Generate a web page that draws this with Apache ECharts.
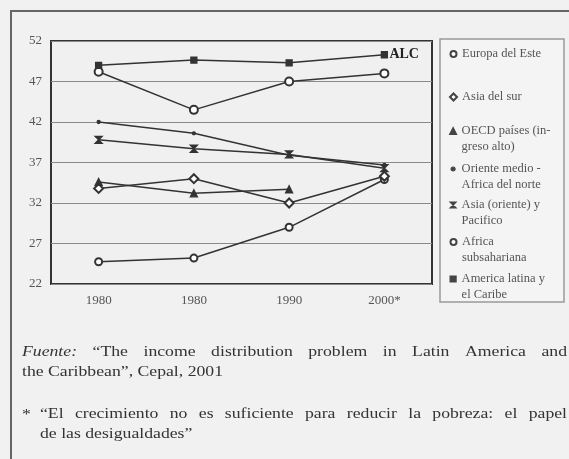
<!DOCTYPE html>
<html>
<head>
<meta charset="utf-8">
<script src="https://cdn.jsdelivr.net/npm/echarts@6/dist/echarts.min.js"></script>
<style>
html,body{margin:0;padding:0;background:#f1f1f1;}
#c{width:569px;height:459px;}
</style>
</head>
<body>
<div id="c"></div>
<script>
// ---- data ----
const categories = ['1980', '1980', '1990', '2000*'];
const yTicks = [22, 27, 32, 37, 42, 47, 52];
const seriesNames = [
  'Europa del Este',
  'Asia del sur',
  'OECD países (ingreso alto)',
  'Oriente medio - Africa del norte',
  'Asia (oriente) y Pacifico',
  'Africa subsahariana',
  'America latina y el Caribe'
];
const legendLabels = [
  'Europa del Este',
  'Asia del sur',
  'OECD países (in-\ngreso alto)',
  'Oriente medio -\nAfrica del norte',
  'Asia (oriente) y\nPacifico',
  'Africa\nsubsahariana',
  'America latina y\nel Caribe'
];
const europaEste = [24.75, 25.2, 29.0, 34.9];
const asiaSur = [33.8, 35.0, 32.0, 35.3];
const oecd = [34.6, 33.2, 33.7, null];
const orienteMedio = [42.0, 40.6, 37.9, 36.7];
const asiaPacifico = [39.8, 38.7, 38.0, 36.3];
const africaSub = [48.2, 43.5, 47.0, 48.0];
const americaLatina = [49.0, 49.65, 49.3, 50.3];
const endLabelText = 'ALC';
const note1a = 'Fuente:';
const note1b = '\u201CThe income distribution problem in Latin America and';
const note2 = 'the Caribbean\u201D, Cepal, 2001';
const note3 = '\u201CEl crecimiento no es suficiente para reducir la pobreza: el papel';
const note4 = 'de las desigualdades\u201D';

// ---- styles ----
const SERIF = "'Liberation Serif', 'DejaVu Serif', serif";
const INK = '#333';
const bowtie = 'path://M0,0L10,0L0,10L10,10Z';
const symbols = ['emptyCircle', 'emptyDiamond', 'triangle', 'circle', bowtie, 'emptyCircle', 'rect'];
const symSizes = [7, 9, 7, 3, 7, 8, 6];
const legendSymbols = ['emptyCircle', 'emptyDiamond', 'triangle', 'circle', bowtie, 'emptyCircle', 'rect'];
const legendSizes = [6, 7, 7, 4, 6, 6, 6];
const legendTops = [41, 84, 102, 140, 176, 213, 250];
const allData = [europaEste, asiaSur, oecd, orienteMedio, asiaPacifico, africaSub, americaLatina];

const series = seriesNames.map((name, i) => ({
  name: name,
  type: 'line',
  data: allData[i],
  symbol: symbols[i],
  symbolSize: symSizes[i],
  showAllSymbol: true,
  connectNulls: false,
  lineStyle: { color: INK, width: 1.5 },
  itemStyle: { color: INK, borderColor: INK, borderWidth: 1.3 },
  emphasis: { disabled: true },
  z: 3,
  endLabel: i === 6 ? {
    show: true, formatter: endLabelText, color: '#222',
    fontFamily: SERIF, fontWeight: 'bold', fontSize: 14, distance: 5
  } : undefined
}));

const legends = seriesNames.map((name, i) => {
  const twoLines = legendLabels[i].indexOf('\n') >= 0;
  // a leading blank line keeps the icon level with the first visible text line
  const label = twoLines ? '\n' + legendLabels[i] : legendLabels[i];
  return {
    data: [{ name: name, icon: legendSymbols[i] }],
    left: 444 + (7 - legendSizes[i]) / 2,
    top: legendTops[i],
    orient: 'vertical',
    itemWidth: legendSizes[i],
    itemHeight: legendSizes[i],
    itemGap: 4,
    selectedMode: false,
    formatter: () => label,
    textStyle: { fontFamily: SERIF, fontSize: 12.5, color: '#555', lineHeight: 16,
      padding: [0, 0, 0, (7 - legendSizes[i]) / 2] },
    itemStyle: { color: '#444', borderColor: '#444', borderWidth: 1.2 },
    lineStyle: { width: 0 }
  };
});

// justification helper for the footnotes (scanned text is horizontally stretched)
const SX = 1.18;
const ctx = document.createElement('canvas').getContext('2d');
function measure(t, font) { ctx.font = font; return ctx.measureText(t).width * SX; }
function word(t, x, y, font) {
  return { type: 'text', x: x, y: y, scaleX: SX, silent: true,
    style: { text: t, font: font, fill: INK, verticalAlign: 'top', align: 'left' } };
}
function justified(text, x0, x1, y, size, italicFirst) {
  const words = text.split(' ');
  const fonts = words.map((w, i) => (italicFirst && i === 0 ? 'italic ' : '') + size + 'px ' + SERIF);
  const widths = words.map((w, i) => measure(w, fonts[i]));
  const total = widths.reduce((a, b) => a + b, 0);
  const gap = (x1 - x0 - total) / (words.length - 1);
  const out = [];
  let x = x0;
  words.forEach((w, i) => { out.push(word(w, x, y, fonts[i])); x += widths[i] + gap; });
  return out;
}

const FS = 15;
const F = FS + 'px ' + SERIF;
const graphics = [
  { type: 'polyline', silent: true, shape: { points: [[11, 459], [11, 11], [569, 11]] },
    style: { stroke: '#666', lineWidth: 2, fill: null } },
  { type: 'rect', silent: true, shape: { x: 440, y: 39, width: 124, height: 263 },
    style: { stroke: '#999', lineWidth: 1.5, fill: '#f4f4f4' }, z: -1 }
].concat(
  justified(note1a + ' ' + note1b, 22, 567, 345, FS, true),
  [word(note2, 22, 365, F)],
  [word('*', 22, 408, F)],
  justified(note3, 40, 567, 407, FS, false),
  [word(note4, 40, 427, F)]
);

const chart = echarts.init(document.getElementById('c'), null, { renderer: 'canvas' });
chart.setOption({
  backgroundColor: '#f1f1f1',
  animation: false,
  grid: {
    left: 51, top: 41, width: 381, height: 243,
    show: true, backgroundColor: '#f0f0f0', borderColor: '#333', borderWidth: 2
  },
  xAxis: {
    type: 'category',
    data: categories,
    boundaryGap: true,
    axisLine: { show: false },
    axisTick: { show: false },
    axisLabel: { fontFamily: SERIF, fontSize: 13, color: '#555', margin: 10 }
  },
  yAxis: {
    type: 'value',
    min: 22, max: 52,
    axisLine: { show: false },
    axisTick: { show: false, customValues: yTicks },
    axisLabel: { fontFamily: SERIF, fontSize: 13, color: '#555', margin: 9, customValues: yTicks },
    splitLine: { show: true, lineStyle: { color: '#8a8a8a', width: 1 } }
  },
  legend: legends,
  series: series,
  graphic: graphics
});
</script>
</body>
</html>
